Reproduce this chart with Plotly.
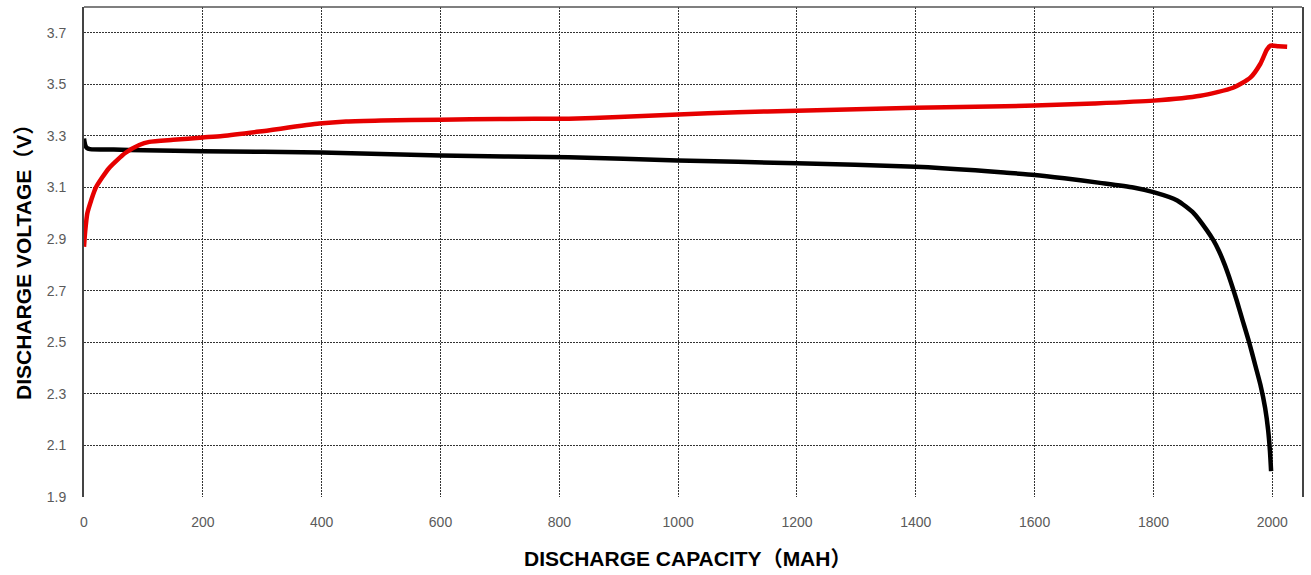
import plotly.graph_objects as go

# ---- data ----
red_capacity = [0, 2, 5.6, 12, 20, 42, 70, 93, 110, 150, 200, 233, 295, 396, 441, 500,
                600, 700, 816, 900, 1000, 1100, 1200, 1300, 1400, 1500, 1600, 1700,
                1800, 1879, 1934, 1963, 1980, 1991, 1997, 2010, 2025]
red_voltage = [2.87, 2.93, 3.0, 3.05, 3.1, 3.175, 3.235, 3.265, 3.277, 3.285, 3.294, 3.30,
               3.317, 3.348, 3.356, 3.36, 3.363, 3.366, 3.367, 3.373, 3.383, 3.392, 3.398,
               3.404, 3.409, 3.413, 3.418, 3.426, 3.437, 3.456, 3.487, 3.526, 3.58, 3.635,
               3.65, 3.648, 3.646]

black_capacity = [0, 2, 5, 10, 50, 100, 200, 400, 600, 816, 1000, 1200, 1400, 1500, 1543,
                  1600, 1650, 1710, 1766, 1800, 1840, 1868, 1890, 1901, 1910, 1920, 1930,
                  1940, 1950, 1961, 1972, 1980, 1988, 1993, 1996, 1998]
black_voltage = [3.29, 3.265, 3.253, 3.249, 3.247, 3.245, 3.241, 3.236, 3.224, 3.217, 3.205,
                 3.194, 3.181, 3.167, 3.159, 3.149, 3.136, 3.118, 3.1, 3.082, 3.05, 3.0,
                 2.934, 2.895, 2.855, 2.8, 2.735, 2.663, 2.585, 2.5, 2.405, 2.335, 2.245,
                 2.16, 2.08, 2.0]

x_ticks = [0, 200, 400, 600, 800, 1000, 1200, 1400, 1600, 1800, 2000]
y_ticks = [1.9, 2.1, 2.3, 2.5, 2.7, 2.9, 3.1, 3.3, 3.5, 3.7]
x_title = ["DISCHARGE CAPACITY", "（", "MAH", "）"]
y_title = ["DISCHARGE VOLTAGE", "（", "V", "）"]

CJK = "font-family:'Noto Sans CJK SC'"


def title_html(parts):
    return ("<b>" + parts[0] + f"<span style=\"{CJK}\">{parts[1]}</span>" + parts[2]
            + f"<span style=\"{CJK}\">{parts[3]}</span></b>")


fig = go.Figure()
fig.add_trace(go.Scatter(x=black_capacity, y=black_voltage, mode="lines",
                         line=dict(color="#000000", width=4.5, shape="spline", smoothing=0.6),
                         showlegend=False))
fig.add_trace(go.Scatter(x=red_capacity, y=red_voltage, mode="lines",
                         line=dict(color="#e60000", width=4.5, shape="spline", smoothing=0.6),
                         showlegend=False))

tick_font = dict(family="Liberation Sans", size=14, color="#5a5a5a")
title_font = dict(family="Liberation Sans", size=21, color="#000000")

fig.update_xaxes(range=[0, 2050], tickvals=x_ticks, ticktext=[str(v) for v in x_ticks],
                 showgrid=True, gridcolor="#333333", gridwidth=1, griddash="1.5px,1.5px",
                 showline=False, zeroline=False, ticks="", tickfont=tick_font,
                 ticklabelstandoff=15)
fig.update_yaxes(range=[1.9, 3.8], tickvals=y_ticks, ticktext=[f"{v:.1f}" for v in y_ticks],
                 showgrid=True, gridcolor="#333333", gridwidth=1, griddash="1.5px,1.5px",
                 showline=True, linecolor="#444444", linewidth=2, mirror=True,
                 zeroline=False, ticks="", tickfont=tick_font, ticklabelstandoff=13)

fig.add_shape(type="line", xref="paper", yref="paper", x0=0, x1=1, y0=1, y1=1,
              line=dict(color="#555555", width=1.5))

fig.add_annotation(text=title_html(x_title), xref="paper", yref="paper", x=0.4955, y=0,
                   yshift=-60, showarrow=False, font=title_font, xanchor="center", yanchor="middle")
fig.add_annotation(text=title_html(y_title), xref="paper", yref="paper", x=0, y=0.49,
                   xshift=-62, showarrow=False, font=title_font, textangle=-90,
                   xanchor="center", yanchor="middle")

fig.update_layout(width=1311, height=575, margin=dict(l=84, r=9, t=7, b=78),
                  paper_bgcolor="white", plot_bgcolor="white")

fig.write_html("out.html", config={"displayModeBar": False},
               post_script="document.body.style.margin='0px';")
